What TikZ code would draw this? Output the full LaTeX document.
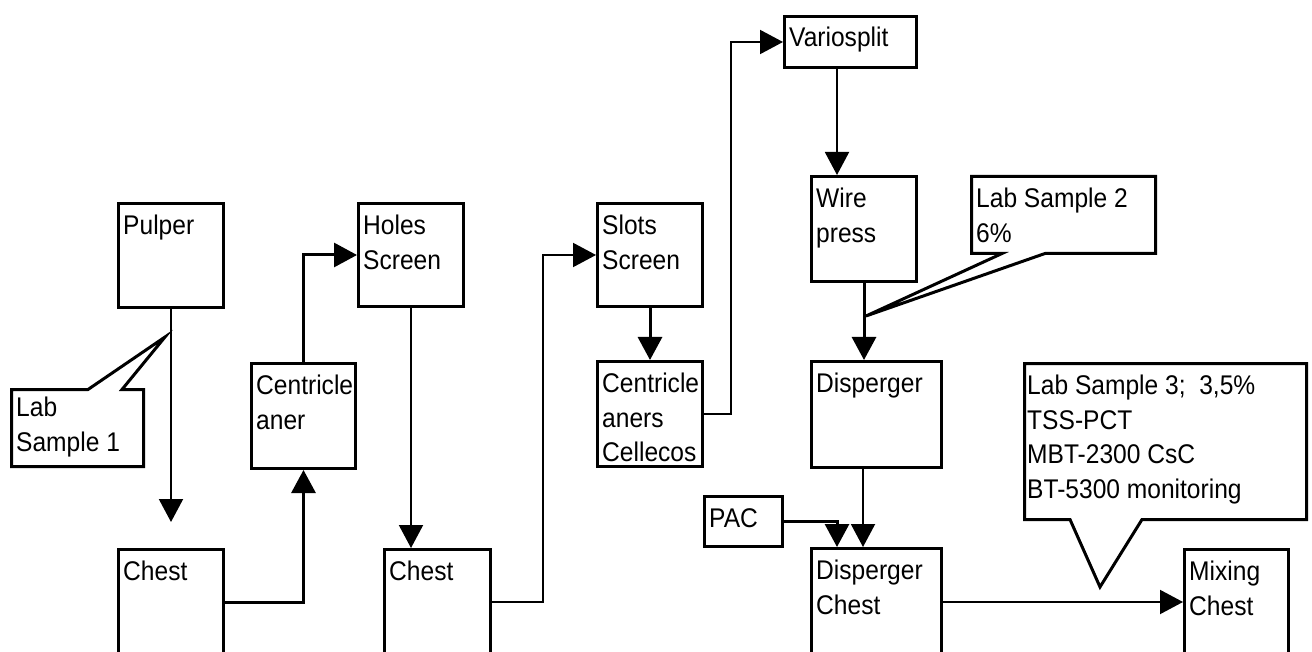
\documentclass[tikz,border=0pt]{standalone}
\usepackage{fontspec}
\setmainfont{Liberation Sans}[FakeStretch=0.91]
\usetikzlibrary{arrows.meta,calc}
\begin{document}
\begin{tikzpicture}[x=1pt,y=-1pt,
  box/.style={draw,line width=3pt,rectangle,anchor=north west,inner sep=0pt},
  txt/.style={font=\fontsize{27}{34.5}\selectfont,align=left,inner sep=0pt,anchor=north west},
  lbl/.style={txt,xshift=6pt,yshift=-13pt},
  flow/.style={line width=2pt,-{Triangle[width=24pt,length=23pt]}},
  thickflow/.style={flow,line width=3pt},
  callout/.style={draw,line width=3pt}]
\useasboundingbox (0,0) rectangle (1312,652);
% process boxes
\node[box,minimum width=105pt,minimum height=104pt,label={[lbl]north west:Pulper}] (pulper) at (117,202) {};
\node[box,minimum width=105pt,minimum height=130pt,label={[lbl]north west:Chest}] (chest1) at (117,548) {};
\node[box,minimum width=104pt,minimum height=105pt,label={[lbl]north west:{Centricle\\aner}}] (cent1) at (250,362) {};
\node[box,minimum width=105pt,minimum height=103pt,label={[lbl]north west:{Holes\\Screen}}] (holes) at (357,202) {};
\node[box,minimum width=106pt,minimum height=130pt,label={[lbl]north west:Chest}] (chest2) at (383,548) {};
\node[box,minimum width=105pt,minimum height=103pt,label={[lbl]north west:{Slots\\Screen}}] (slots) at (596,202) {};
\node[box,minimum width=105pt,minimum height=105pt,label={[lbl]north west:{Centricle\\aners\\Cellecos}}] (cent2) at (596,360) {};
\node[box,minimum width=132pt,minimum height=51pt,label={[lbl,yshift=1pt]north west:Variosplit}] (vario) at (783,15) {};
\node[box,minimum width=105pt,minimum height=105pt,label={[lbl]north west:{Wire\\press}}] (wire) at (810,175) {};
\node[box,minimum width=130pt,minimum height=106pt,label={[lbl]north west:Disperger}] (disp) at (810,360) {};
\node[box,minimum width=130pt,minimum height=130pt,label={[lbl]north west:{Disperger\\Chest}}] (dchest) at (810,547) {};
\node[box,minimum width=78pt,minimum height=50pt,label={[lbl]north west:PAC}] (pac) at (703,495) {};
\node[box,minimum width=104pt,minimum height=130pt,label={[lbl]north west:{Mixing\\Chest}}] (mix) at (1183,548) {};
% callouts
\node[txt] (lab1) at (16,397) {Lab\\Sample 1};
\node[txt] (lab2) at (976,188) {Lab Sample 2\\6\%};
\node[txt] (lab3) at (1027,375) {Lab Sample 3;~ 3,5\%\\TSS-PCT\\MBT-2300 CsC\\BT-5300 monitoring};
\draw[callout] (11.5,389.5) -- (88,389.5) -- (165,337) -- (122,389.5) -- (143.5,389.5) -- (143.5,466.5) -- (11.5,466.5) -- cycle;
\draw[callout] (971.5,176.5) -- (1155.5,176.5) -- (1155.5,253.5) -- (1045,253.5) -- (866,316) -- (1002,253.5) -- (971.5,253.5) -- cycle;
\draw[callout] (1024.5,363.5) -- (1306.5,363.5) -- (1306.5,519.5) -- (1142,519.5) -- (1100,587) -- (1070,519.5) -- (1024.5,519.5) -- cycle;
% connectors
\draw[flow,shorten >=26pt] (pulper.south) -- (pulper.south |- chest1.north);
\draw[thickflow] ($(chest1.north east)+(0,54)$) -| (cent1.south);
\draw[thickflow] (cent1.north) |- (holes.west);
\draw[flow] (holes.south) -- (holes.south |- chest2.north);
\draw[flow] ($(chest2.north east)+(0,54)$) -- ++(51,0) |- (slots.west);
\draw[thickflow] (slots.south) -- (cent2.north);
\draw[flow] (cent2.east) -- ++(27,0) |- (vario.west);
\coordinate (vout) at ($(vario.south west)+(54,0)$);
\draw[flow] (vout) -- (vout |- wire.north);
\draw[thickflow] (wire.south) -- (wire.south |- disp.north);
\coordinate (dout) at ($(disp.south west)+(53,0)$);
\draw[flow] (dout) -- (dout |- dchest.north);
\draw[thickflow] (pac.east) -| ($(dchest.north west)+(27,0)$);
\coordinate (dcout) at ($(dchest.north east)+(0,55)$);
\draw[flow] (dcout) -- (dcout -| mix.west);
\end{tikzpicture}
\end{document}
